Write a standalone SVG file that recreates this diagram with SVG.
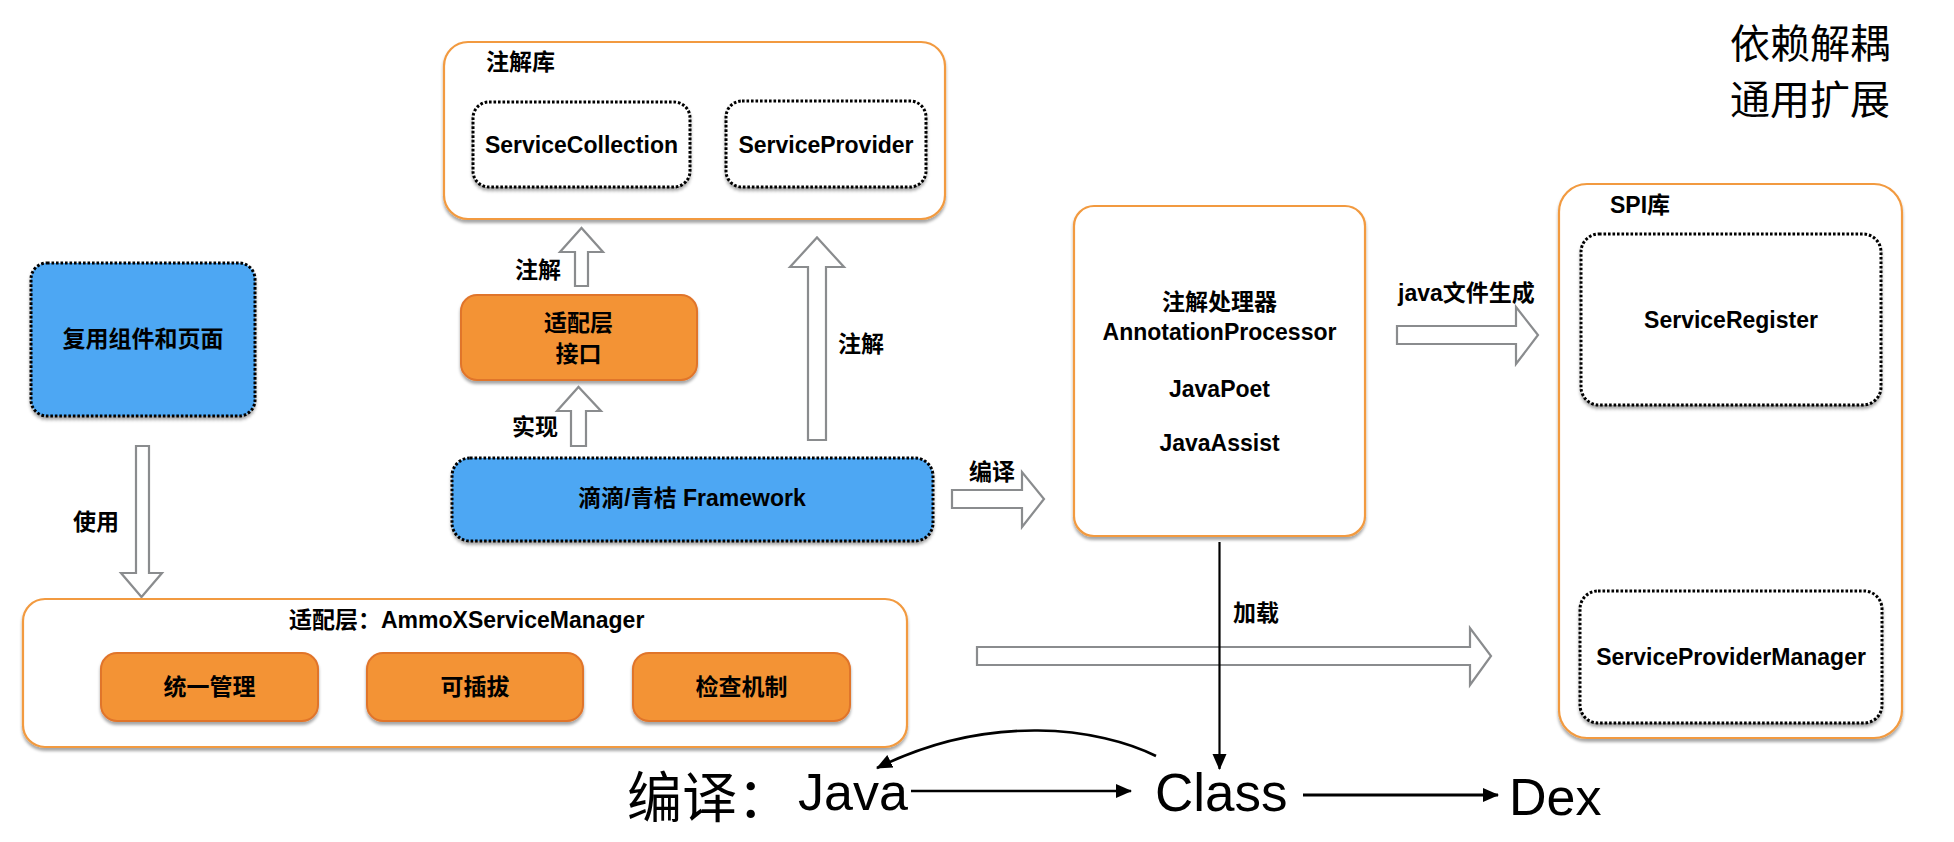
<svg xmlns="http://www.w3.org/2000/svg" width="1954" height="842" viewBox="0 0 1954 842">
<defs>
<filter id="sh" x="-5%" y="-5%" width="110%" height="120%">
<feDropShadow dx="0" dy="3" stdDeviation="1.5" flood-color="#000" flood-opacity="0.35"/>
</filter>
<marker id="ah" markerUnits="userSpaceOnUse" markerWidth="16" markerHeight="16" viewBox="0 0 16 16" refX="15" refY="8" orient="auto">
<path d="M0,1 L16,8 L0,15 Z" fill="#000"/>
</marker>
</defs>
<style>
.cont{fill:#fff;stroke:#F29A3F;stroke-width:2.2}
.dot{fill:#fff;stroke:#000;stroke-width:3;stroke-dasharray:2.6 1.9}
.blue{fill:#4DA7F3;stroke:#000;stroke-width:3;stroke-dasharray:2.6 1.9}
.org{fill:#F39335;stroke:#E0742B;stroke-width:2}
.big{fill:#fff;stroke:#8A8C8E;stroke-width:2.2;stroke-linejoin:miter}
text{font-family:"Liberation Sans","Noto Sans CJK SC",sans-serif;fill:#000}
.b{font-weight:bold;font-size:23px;dominant-baseline:central}
.c{text-anchor:middle}
.lg{font-weight:normal}
.ln{stroke:#000;fill:none}
</style>
<rect width="1954" height="842" fill="#fff"/>

<g id="deco">
<text class="lg" x="1730" y="58" font-size="40">依赖解耦</text>
<text class="lg" x="1730" y="114" font-size="40">通用扩展</text>
</g>

<g id="connectors">
<polygon class="big" points="575,286 588,286 588,252 603,252 581.5,228 560,252 575,252"/>
<text class="b" x="515" y="270">注解</text>
<polygon class="big" points="571,446 586,446 586,411 601,411 578.5,387 557,411 571,411"/>
<text class="b" x="512" y="427">实现</text>
<polygon class="big" points="808,440 826,440 826,267 844,267 817,237.5 790,267 808,267"/>
<text class="b" x="838" y="344">注解</text>
<polygon class="big" points="136,446 149,446 149,573 162,573 141.5,597 121,573 136,573"/>
<text class="b" x="73" y="522">使用</text>
<polygon class="big" points="952,490 1022,490 1022,472 1044,499 1022,527 1022,508 952,508"/>
<text class="b" x="969" y="472">编译</text>
<polygon class="big" points="1397,326 1516,326 1516,307 1538,335 1516,364 1516,344 1397,344"/>
<text class="b" x="1398" y="293">java文件生成</text>
<polygon class="big" points="977,647 1470,647 1470,628 1491,656 1470,685 1470,665 977,665"/>
<text class="b" x="1233" y="613">加载</text>
<polygon class="big" points="1722,572 1739,572 1739,446 1758,446 1730,423 1702,446 1722,446"/>
<text class="b" x="1753" y="499">读取</text>
<line class="ln" x1="1219.5" y1="542" x2="1219.5" y2="769" stroke-width="2.2" marker-end="url(#ah)"/>
<line class="ln" x1="911" y1="791" x2="1131" y2="791" stroke-width="2.6" marker-end="url(#ah)"/>
<line class="ln" x1="1303" y1="795" x2="1498" y2="795" stroke-width="3" marker-end="url(#ah)"/>
<path class="ln" d="M1156,756 C1100,728 990,712 877,768" stroke-width="2.6" marker-end="url(#ah)"/>
</g>

<g id="lib-annotation">
<rect class="cont" x="444" y="42" width="501" height="177" rx="24" filter="url(#sh)"/>
<text class="b" x="486" y="62">注解库</text>
</g>
<g id="service-collection">
<rect class="dot" x="473" y="102" width="217" height="85" rx="16" filter="url(#sh)"/>
<text class="b c" x="581.5" y="145">ServiceCollection</text>
</g>
<g id="service-provider">
<rect class="dot" x="726" y="101" width="200" height="86" rx="16" filter="url(#sh)"/>
<text class="b c" x="826" y="145">ServiceProvider</text>
</g>

<g id="reuse">
<rect class="blue" x="31" y="263" width="224" height="153" rx="16" filter="url(#sh)"/>
<text class="b c" x="143" y="339">复用组件和页面</text>
</g>

<g id="adapter-interface">
<rect class="org" x="461" y="295" width="236" height="85" rx="16" filter="url(#sh)"/>
<text class="b c" x="578.5" y="322.5">适配层</text>
<text class="b c" x="578.5" y="354">接口</text>
</g>

<g id="framework">
<rect class="blue" x="452" y="458" width="481" height="83" rx="18" filter="url(#sh)"/>
<text class="b c" x="692" y="498">滴滴/青桔 Framework</text>
</g>

<g id="processor">
<rect class="cont" x="1074" y="206" width="291" height="330" rx="20" filter="url(#sh)"/>
<text class="b c" x="1219.5" y="302">注解处理器</text>
<text class="b c" x="1219.5" y="332">AnnotationProcessor</text>
<text class="b c" x="1219.5" y="389">JavaPoet</text>
<text class="b c" x="1219.5" y="443">JavaAssist</text>
</g>

<g id="spi">
<rect class="cont" x="1559" y="184" width="343" height="554" rx="28" filter="url(#sh)"/>
<text class="b" x="1610" y="205">SPI库</text>
</g>
<g id="service-register">
<rect class="dot" x="1581" y="234" width="300" height="171" rx="18" filter="url(#sh)"/>
<text class="b c" x="1731" y="320">ServiceRegister</text>
</g>
<g id="service-provider-manager">
<rect class="dot" x="1580" y="591" width="302" height="132" rx="18" filter="url(#sh)"/>
<text class="b c" x="1731" y="657">ServiceProviderManager</text>
</g>

<g id="ammox">
<rect class="cont" x="23" y="599" width="884" height="148" rx="22" filter="url(#sh)"/>
<text class="b" x="289" y="620">适配层：AmmoXServiceManager</text>
</g>
<g id="unified">
<rect class="org" x="101" y="653" width="217" height="68" rx="16" filter="url(#sh)"/>
<text class="b c" x="209.5" y="687">统一管理</text>
</g>
<g id="pluggable">
<rect class="org" x="367" y="653" width="216" height="68" rx="16" filter="url(#sh)"/>
<text class="b c" x="475" y="687">可插拔</text>
</g>
<g id="check">
<rect class="org" x="633" y="653" width="217" height="68" rx="16" filter="url(#sh)"/>
<text class="b c" x="741.5" y="687">检查机制</text>
</g>

<g id="compile-chain">
<text class="lg" x="627" y="817" font-size="55">编译：</text>
<text class="lg" x="798" y="810" font-size="52">Java</text>
<text class="lg" x="1155" y="811" font-size="53">Class</text>
<text class="lg" x="1509" y="815" font-size="52">Dex</text>
</g>
</svg>
